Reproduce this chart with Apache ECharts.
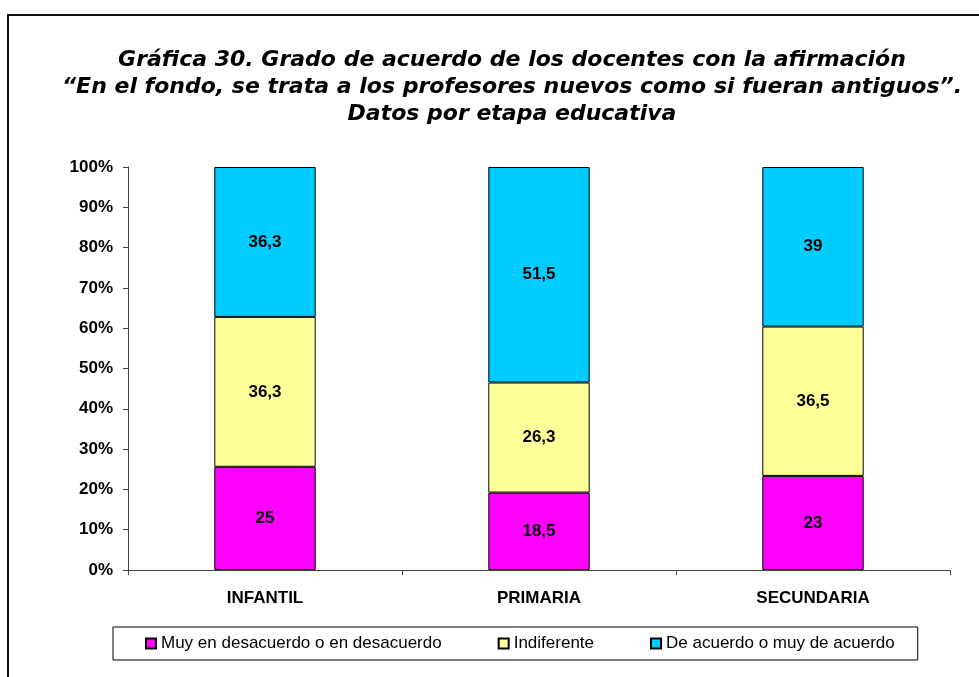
<!DOCTYPE html>
<html>
<head>
<meta charset="utf-8">
<script src="https://cdn.jsdelivr.net/npm/echarts@6/dist/echarts.min.js"></script>
<style>
  html, body { margin: 0; padding: 0; background: #fff; }
  #chart { width: 979px; height: 677px; }
</style>
</head>
<body>
<div id="chart"></div>
<script>
// etapas educativas
const categories = ['INFANTIL', 'PRIMARIA', 'SECUNDARIA'];
const seriesNames = ['Muy en desacuerdo o en desacuerdo', 'Indiferente', 'De acuerdo o muy de acuerdo'];
// valores tal cual aparecen en las etiquetas
const desacuerdo = [25, 18.5, 23];
const indiferente = [36.3, 26.3, 36.5];
const deAcuerdo = [36.3, 51.5, 39];
const yTicks = [0, 10, 20, 30, 40, 50, 60, 70, 80, 90, 100];
const colors = ['#ff00ff', '#ffff99', '#00ccff'];

const raw = [desacuerdo, indiferente, deAcuerdo];
// barras al 100%: cada valor sobre el total de su etapa
const totals = categories.map((c, i) => raw.reduce((s, arr) => s + arr[i], 0));

const labelFont = { fontFamily: 'Liberation Sans', fontWeight: 'bold', fontSize: 17, color: '#000' };

const chart = echarts.init(document.getElementById('chart'));
chart.setOption({
  animation: false,
  title: {
    text: 'Gráfica 30. Grado de acuerdo de los docentes con la afirmación\n\u201cEn el fondo, se trata a los profesores nuevos como si fueran antiguos\u201d.\nDatos por etapa educativa',
    left: 512,
    textAlign: 'center',
    top: 47,
    padding: 0,
    textStyle: {
      fontFamily: 'DejaVu Sans',
      fontStyle: 'italic',
      fontWeight: 'bold',
      fontSize: 22,
      lineHeight: 27,
      color: '#000'
    }
  },
  graphic: [{
    type: 'rect',
    shape: { x: 8, y: 15, width: 1000, height: 700 },
    style: { fill: 'none', stroke: '#111', lineWidth: 2 },
    silent: true
  }],
  legend: {
    left: 113,
    top: 627,
    padding: [8, 23, 8, 32],
    itemGap: 56,
    itemWidth: 10,
    itemHeight: 10,
    borderColor: '#000',
    borderWidth: 1,
    icon: 'rect',
    data: seriesNames,
    textStyle: { fontFamily: 'Liberation Sans', fontSize: 17, color: '#000' }
  },
  grid: { left: 128, right: 29, top: 167, bottom: 107 },
  xAxis: {
    type: 'category',
    data: categories,
    axisLine: { lineStyle: { color: '#444', width: 1 } },
    axisTick: { show: true, length: 5, lineStyle: { color: '#444' } },
    axisLabel: Object.assign({ margin: 20 }, labelFont)
  },
  yAxis: {
    type: 'value',
    min: yTicks[0],
    max: yTicks[yTicks.length - 1],
    interval: 10,
    splitLine: { show: false },
    axisLine: { show: true, lineStyle: { color: '#444', width: 1 } },
    axisTick: { show: true, length: 5, lineStyle: { color: '#444' } },
    axisLabel: Object.assign({ margin: 15, formatter: v => v + '%' }, labelFont)
  },
  series: raw.map((arr, k) => ({
    name: seriesNames[k],
    type: 'bar',
    stack: 'total',
    barWidth: '37%',
    itemStyle: { color: colors[k], borderColor: '#000', borderWidth: 1 },
    label: Object.assign({
      show: true,
      position: 'inside',
      formatter: p => String(arr[p.dataIndex]).replace('.', ',')
    }, labelFont),
    data: arr.map((v, i) => v / totals[i] * 100)
  }))
});
</script>
</body>
</html>
